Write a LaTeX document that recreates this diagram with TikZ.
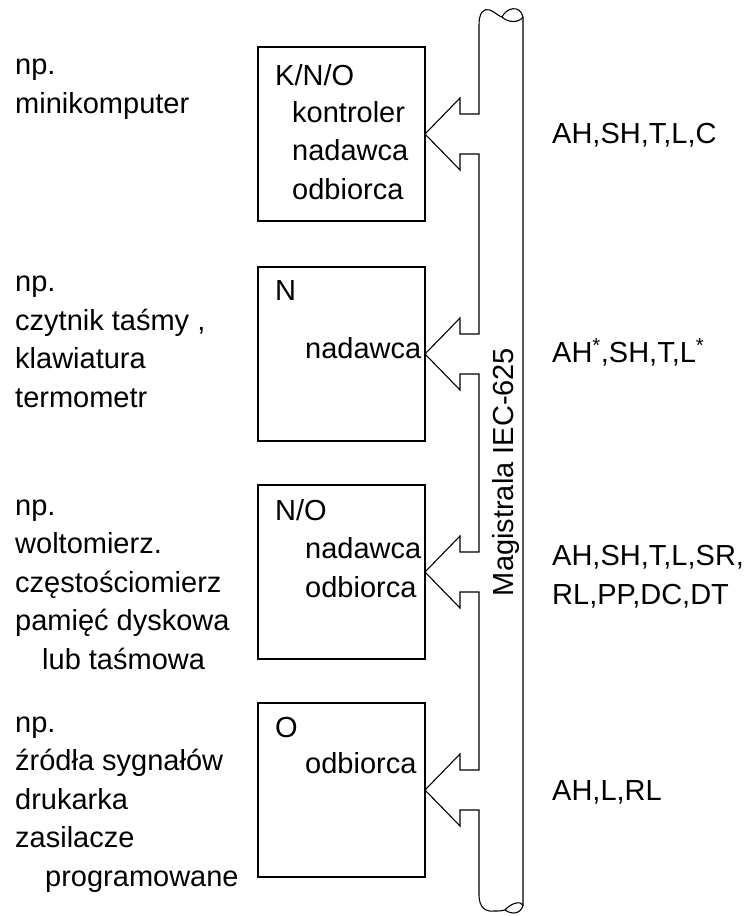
\documentclass[tikz,border=0pt]{standalone}
\usepackage{fontspec}
\setmainfont{Liberation Sans}
\usetikzlibrary{positioning,calc}

\begin{document}
\begin{tikzpicture}[x=1pt,y=-1pt,
    modbox/.style={draw,line width=2.4pt,minimum width=167pt,minimum height=174pt,
                   inner sep=0pt,outer sep=0pt},
    txt/.style={anchor=base west,align=left,inner sep=0pt,
                font=\fontsize{29}{38.5}\selectfont},
    busline/.style={line width=1.1pt,line join=miter}]
  \useasboundingbox (0,0) rectangle (749,916);

  % units (multi-line texts sit on their last baseline)
  \node[modbox] (kno) at (341.5,134) {};
  \node[modbox] (n)   at (341.5,354) {};
  \node[modbox] (no)  at (341.5,572) {};
  \node[modbox] (o)   at (341.5,790) {};

  \node[txt] (knotag) at (275,85)  {K/N/O};
  \node[txt] (knofun) at (292,199) {kontroler\\nadawca\\odbiorca};
  \node[txt] (ntag)   at (275,300) {N};
  \node[txt] (nfun)   at (305,358) {nadawca};
  \node[txt] (notag)  at (275,520) {N/O};
  \node[txt] (nofun)  at (305,597) {nadawca\\odbiorca};
  \node[txt] (otag)   at (275,737) {O};
  \node[txt] (ofun)   at (305,773) {odbiorca};

  % examples
  \node[txt] (exkno) at (15,113) {np.\\minikomputer};
  \node[txt] (exn)   at (15,407) {np.\\czytnik taśmy ,\\klawiatura\\termometr};
  \node[txt] (exno)  at (15,669) {np.\\woltomierz.\\częstościomierz\\pamięć dyskowa\\\hspace*{27pt}lub taśmowa};
  \node[txt] (exo)   at (15,886) {np.\\źródła sygnałów\\drukarka\\zasilacze\\\hspace*{30pt}programowane};

  % interface functions
  \node[txt] (fkno) at (552,143) {AH,SH,T,L,C};
  \node[txt] (fn)   at (552,362) {AH\textsuperscript{*},SH,T,L\textsuperscript{*}};
  \node[txt] (fno)  at (552,604) {AH,SH,T,L,SR,\\RL,PP,DC,DT};
  \node[txt] (fo)   at (552,800) {AH,L,RL};

  % bus with ports
  \draw[busline] (479,25)
    \foreach \m in {kno,n,no,o} {
      -- ($(\m.east)+(54,-20)$) -- ++(-19,0) -- ++(0,-16) -- (\m.east)
      -- ++(35,36) -- ++(0,-16) -- ++(19,0)
    } -- (479,895);
  \draw[busline] (479,25) .. controls (479,12) and (484,8) .. (490,10)
    .. controls (495,12) and (498,16) .. (502,17)
    .. controls (506,8) and (520,4) .. (523,17) -- (523,905)
    .. controls (520,900) and (510,904) .. (505,910)
    .. controls (502,911) and (499,911) .. (494,911)
    .. controls (486,912) and (479,908) .. (479,895);
  \draw[busline] (502,17) .. controls (508,23) and (519,23) .. (523,17);
  \draw[busline] (505,910) .. controls (512,915) and (521,914) .. (523,905);
  \node[txt,rotate=90,anchor=base] (buslbl) at (513,472) {Magistrala IEC-625};
\end{tikzpicture}
\end{document}
